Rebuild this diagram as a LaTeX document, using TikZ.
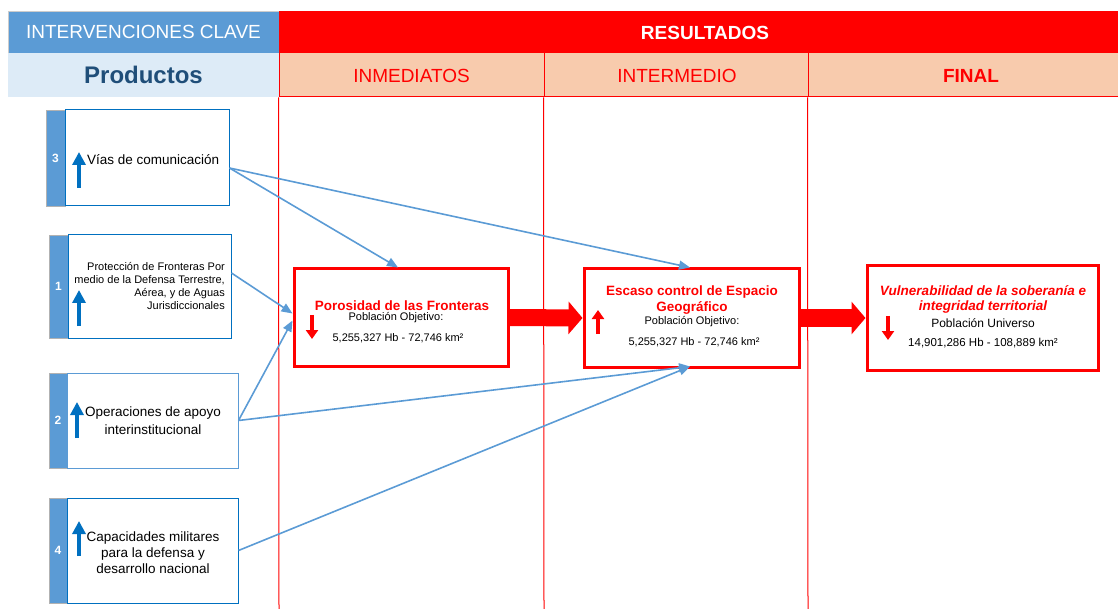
\documentclass[tikz,border=0pt]{standalone}
\usepackage{fontspec}
\setmainfont{Liberation Sans}
\usetikzlibrary{arrows.meta,calc}
\definecolor{hblue}{HTML}{5B9BD5}
\definecolor{lblue}{HTML}{DDEBF7}
\definecolor{dblue}{HTML}{1F4E79}
\definecolor{peach}{HTML}{F8CBAD}
\definecolor{abl}{HTML}{0070C0}
\newcommand\setfs[2]{\fontsize{#1}{#2}\selectfont}
\tikzset{
  hdrbox/.style={inner sep=0pt},
  cell/.style={fill=peach, draw=red, line width=1pt, inner sep=0pt, text=red},
  strip/.style={fill=hblue, draw=gray!60, line width=0.8pt, inner sep=0pt, text=white, font=\bfseries\setfs{12}{14}},
  lbox/.style={fill=white, draw=abl, line width=1pt, inner sep=0pt},
  rbox/.style={fill=white, draw=red, line width=3pt, inner sep=0pt},
  conn/.style={draw=hblue, line width=1.6pt, -{Triangle[length=11pt,width=9pt]}},
  bigarr/.style={draw=red, line width=17pt, -{Triangle[length=14pt,width=32pt]}},
  upbl/.style={draw=abl, line width=3.5pt, -{Triangle[length=13pt,width=13pt]}},
  redar/.style={draw=red, line width=4.5pt, -{Triangle[length=9pt,width=12pt]}},
  gridline/.style={draw=red, line width=1pt},
  txt/.style={inner sep=0pt},
}
\begin{document}
\begin{tikzpicture}[x=1pt,y=-1pt]
\useasboundingbox (0,0) rectangle (1118,609);
% header row 1
\node[hdrbox, fill=hblue, draw=gray!40, line width=0.6pt, minimum width=271pt, minimum height=42pt, text=white, font=\setfs{19}{22}] (hint) at (143.5,32) {INTERVENCIONES CLAVE};
\node[hdrbox, fill=red, minimum width=839pt, minimum height=42pt] (hres) at (698.5,32) {};
\node[txt, text=white, font=\bfseries\setfs{19}{22}] (tres) at (705,33) {RESULTADOS};
% header row 2
\node[hdrbox, fill=lblue, minimum width=271pt, minimum height=44pt, text=dblue, font=\bfseries\setfs{24}{28}] (hprod) at (143.5,75) {Productos};
\node[cell, minimum width=265pt, minimum height=44pt] (c1) at (411.5,75) {};
\node[cell, minimum width=264pt, minimum height=44pt] (c2) at (676,75) {};
\node[cell, minimum width=310pt, minimum height=44pt] (c3) at (963,75) {};
\node[txt, text=red, font=\setfs{19}{22}] (t1) at (411.5,76) {INMEDIATOS};
\node[txt, text=red, font=\setfs{19}{22}] (t2) at (677,76) {INTERMEDIO};
\node[txt, text=red, font=\bfseries\setfs{19}{22}] (t3) at (971,76) {FINAL};
% left boxes
\node[strip, minimum width=19pt, minimum height=96pt] (s3) at (55.5,158) {3};
\node[lbox, minimum width=164pt, minimum height=96pt] (b3) at (147,158) {};
\node[strip, minimum width=19pt, minimum height=103pt] (s1) at (58.5,286.5) {1};
\node[lbox, minimum width=163pt, minimum height=103pt] (b1) at (149.5,286.5) {};
\node[strip, minimum width=18pt, minimum height=95pt] (s2) at (58,420.5) {2};
\node[lbox, draw=hblue, minimum width=171pt, minimum height=95pt] (b2) at (152.5,420.5) {};
\node[strip, minimum width=18pt, minimum height=105pt] (s4) at (58,550.5) {4};
\node[lbox, minimum width=171pt, minimum height=105pt] (b4) at (152.5,550.5) {};
\node[txt, anchor=west, font=\setfs{13.5}{16}] (l3) at (87,160) {Vías de comunicación};
\node[txt, anchor=east, align=right, font=\setfs{11}{13}] (l1) at (225,286.5) {Protección de Fronteras Por\\medio de la Defensa Terrestre,\\Aérea, y de Aguas\\Jurisdiccionales};
\node[txt, align=center, font=\setfs{13.5}{18}] (l2) at (153,421) {Operaciones de apoyo\\interinstitucional};
\node[txt, align=center, font=\setfs{13.5}{16}] (l4) at (153,553) {Capacidades militares\\para la defensa y\\desarrollo nacional};
\draw[upbl] (79,188) -- (79,152);
\draw[upbl] (79,326) -- (79,290);
\draw[upbl] (77,438) -- (77,402);
\draw[upbl] (79,556) -- (79,521);
% right boxes
\node[rbox, minimum width=214pt, minimum height=97pt] (P) at (401,317.5) {};
\node[rbox, minimum width=215pt, minimum height=98pt] (E) at (691.5,318) {};
\node[rbox, minimum width=231pt, minimum height=104pt] (V) at (982.5,318) {};
\node[txt, text=red, font=\bfseries\setfs{13.5}{16}] (pt) at (402,306) {Porosidad de las Fronteras};
\node[txt, font=\setfs{11}{13}] (pp) at (396,318) {Población Objetivo:};
\node[txt, font=\setfs{11}{13}] (pn) at (398,338) {5,255,327 Hb - 72,746 km²};
\node[txt, text=red, align=center, font=\bfseries\setfs{13.5}{16}] (et) at (692,300) {Escaso control de Espacio\\Geográfico};
\node[txt, font=\setfs{11}{13}] (ep) at (692,322) {Población Objetivo:};
\node[txt, font=\setfs{11}{13}] (en) at (694,342) {5,255,327 Hb - 72,746 km²};
\node[txt, text=red, align=center, font=\bfseries\itshape\setfs{13.5}{15}] (vt) at (983,299.5) {Vulnerabilidad de la soberanía e\\integridad territorial};
\node[txt, font=\setfs{12}{14}] (vp) at (983,323) {Población Universo};
\node[txt, font=\setfs{11.5}{14}] (vn) at (983,343) {14,901,286 Hb - 108,889 km²};
\draw[redar] (312,315) -- (312,339);
\draw[redar] (598,334) -- (598,310);
\draw[redar] (888,316) -- (888,340);
% big arrows
\draw[bigarr] (P.east) -- (E.west);
\draw[bigarr] (E.east) -- (V.west);
% grid lines
\coordinate (g1) at (279,609);
\coordinate (g2) at (544,609);
\coordinate (g3) at (808,609);
\draw[gridline] (c1.south west) -- (g1);
\draw[gridline] (c2.south west) -- (g2);
\draw[gridline] (c3.south west) -- (g3);
% connectors
\coordinate (b3o) at ($(b3.east)+(0,10)$);
\coordinate (b1o) at ($(b1.east)+(0,-13.5)$);
\coordinate (pin1) at ($(P.west)+(0,-4)$);
\coordinate (pin2) at ($(P.west)+(0,3)$);
\coordinate (ptop) at ($(P.north)+(-3,0)$);
\coordinate (etop) at ($(E.north)+(-1.5,0)$);
\coordinate (ebot) at ($(E.south)+(-1.5,-2)$);
\draw[conn] (b3o) -- (ptop);
\draw[conn] (b3o) -- (etop);
\draw[conn] (b1o) -- (pin1);
\draw[conn] (b2.east) -- (pin2);
\draw[conn] (b2.east) -- (ebot);
\draw[conn] (b4.east) -- (ebot);
\end{tikzpicture}
\end{document}
